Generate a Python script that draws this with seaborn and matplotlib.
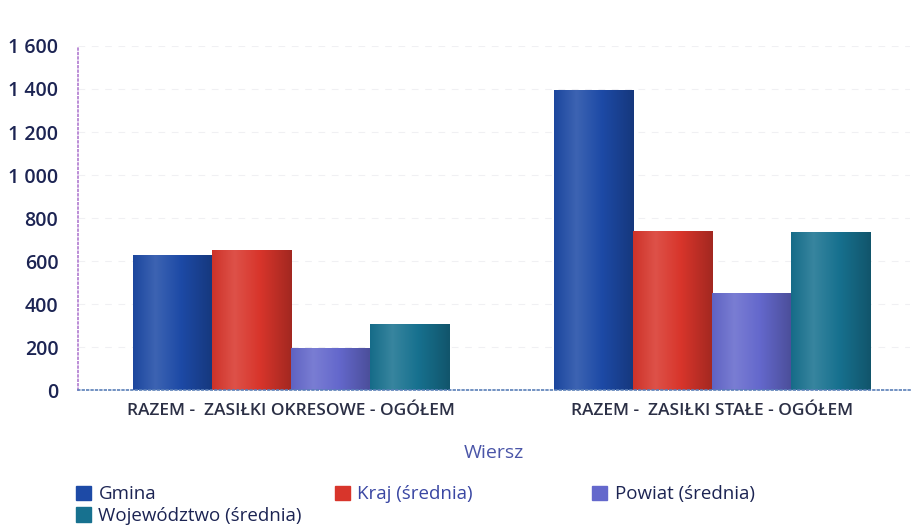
import matplotlib.pyplot as plt
import matplotlib.patches as mpatches
from matplotlib.colors import LinearSegmentedColormap, to_rgb
import seaborn as sns
import pandas as pd
import numpy as np

categories = ["RAZEM -  ZASIŁKI OKRESOWE - OGÓŁEM", "RAZEM -  ZASIŁKI STAŁE - OGÓŁEM"]
series = ["Gmina", "Kraj (średnia)", "Powiat (średnia)", "Województwo (średnia)"]
gmina = [628, 1395]
kraj = [651, 740]
powiat = [195, 451]
wojewodztwo = [307, 735]
yticks = [0, 200, 400, 600, 800, 1000, 1200, 1400, 1600]
ytick_labels = ["0", "200", "400", "600", "800", "1 000", "1 200", "1 400", "1 600"]

colors = ["#1d4aa6", "#d8352b", "#6468cc", "#17718f"]
text_colors = ["#1c2453", "#3a47a3", "#1c2453", "#1c2453"]

rows = []
for name, vals in zip(series, [gmina, kraj, powiat, wojewodztwo]):
    for cat, v in zip(categories, vals):
        rows.append({"Wiersz": cat, "Seria": name, "Wartosc": v})
df = pd.DataFrame(rows)

sns.set_style("white")
plt.rcParams["font.family"] = ["Open Sans", "DejaVu Sans"]

fig = plt.figure(figsize=(9.15, 5.28), dpi=100)
ax = fig.add_axes([0.085, 0.261, 0.91, 0.652])

sns.barplot(data=df, x="Wiersz", y="Wartosc", hue="Seria", order=categories,
            hue_order=series, palette=colors, width=0.75, saturation=1,
            edgecolor="none", ax=ax, legend=False)


def shade(c, f):
    r = np.array(to_rgb(c))
    if f >= 0:
        return tuple(r + (1 - r) * f)
    return tuple(r * (1 + f))


# cylinder-like shading on each bar
grad = np.linspace(0, 1, 256).reshape(1, -1)
for patch in list(ax.patches):
    c = patch.get_facecolor()
    cmap = LinearSegmentedColormap.from_list(
        "cyl", [(0, shade(c, -0.05)), (0.28, shade(c, 0.14)),
                (0.6, shade(c, 0.0)), (1, shade(c, -0.25))])
    x0, y0 = patch.get_x(), patch.get_y()
    w, h = patch.get_width(), patch.get_height()
    im = ax.imshow(grad, cmap=cmap, aspect="auto", extent=[x0, x0 + w, y0, y0 + h],
                   zorder=patch.get_zorder() + 0.1)
    im.set_clip_path(patch)
ax.set_xlim(-0.505, 1.47)
ax.set_ylim(0, 1600)

ax.set_yticks(yticks)
ax.set_yticklabels(ytick_labels, fontsize=14, fontweight="semibold", color="#1c2453")
ax.tick_params(axis="y", length=0, pad=14)
ax.tick_params(axis="x", length=0, pad=9)
for lbl in ax.get_xticklabels():
    lbl.set_fontsize(12.5)
    lbl.set_color("#2b2f45")
    lbl.set_fontweight("semibold")

# faint gridlines
for y in yticks[1:]:
    ax.axhline(y, color="#f0f0f3", lw=0.8, ls=(0, (6, 6)), zorder=0)

for side in ["top", "right"]:
    ax.spines[side].set_visible(False)
ax.spines["left"].set_linestyle(":")
ax.spines["left"].set_color("#b07ad0")
ax.spines["left"].set_linewidth(1.2)
ax.spines["bottom"].set_linestyle(":")
ax.spines["bottom"].set_color("#5a7fb8")
ax.spines["bottom"].set_linewidth(1.2)

ax.set_ylabel("")
ax.set_xlabel("Wiersz", fontsize=14, color="#4a55a8", labelpad=18)

# legend laid out in three columns: Gmina/Województwo, Kraj, Powiat
columns = [([0, 3], 0.083), ([1], 0.366), ([2], 0.647)]
for idx, x in columns:
    handles = [mpatches.Patch(color=colors[i]) for i in idx]
    labels = [series[i] for i in idx]
    leg = fig.legend(handles, labels, loc="upper left", bbox_to_anchor=(x, 0.081),
                     frameon=False, fontsize=13.5, handlelength=0.8, handleheight=0.8,
                     handletextpad=0.4, labelspacing=0.2, borderaxespad=0, borderpad=0)
    for txt, i in zip(leg.get_texts(), idx):
        txt.set_color(text_colors[i])
        txt.set_fontweight("medium")

fig.savefig("out.png", dpi=100)
